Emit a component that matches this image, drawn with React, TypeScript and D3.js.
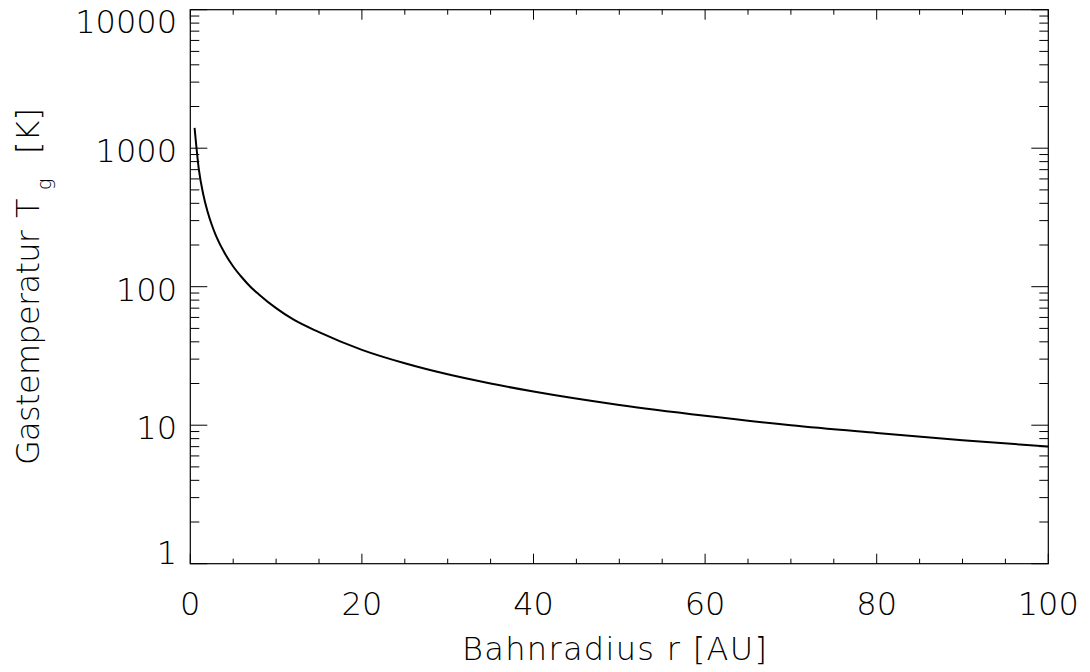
import React from "react";
import * as d3 from "d3";

// Orbital radius r [AU] and gas temperature T_g [K]
const radius = [0.5, 1, 1.5, 2, 2.5, 3, 4, 5, 6, 7, 8, 10, 12, 15, 20, 25, 30, 35, 40, 50, 60, 70, 80, 90, 100];
const temperature = [1400, 700, 467, 350, 280, 233, 175, 140, 117, 100, 88, 70, 58, 47, 35, 28, 23.3, 20, 17.5, 14, 11.7, 10, 8.8, 7.8, 7.0];

const xTicks = [0, 20, 40, 60, 80, 100];
const xMinorTicks = [5, 10, 15, 25, 30, 35, 45, 50, 55, 65, 70, 75, 85, 90, 95];
const yTicks = [1, 10, 100, 1000, 10000];
const yTickLabels = ["1", "10", "100", "1000", "10000"];

const W = 1090;
const H = 672;
const M = { left: 190.3, right: 1048.3, top: 9.7, bottom: 563.7 };
const FONT = "'DejaVu Sans', 'Liberation Sans', sans-serif";

export default function App() {
  const x = d3.scaleLinear().domain([0, 100]).range([M.left, M.right]);
  const y = d3.scaleLog().domain([1, 10000]).range([M.bottom, M.top]);

  const yMinor: number[] = [];
  for (let d = 1; d < 10000; d *= 10) {
    for (let k = 2; k <= 9; k++) yMinor.push(d * k);
  }

  const line = d3
    .line<number>()
    .x((_, i) => x(radius[i]))
    .y((d) => y(d))
    .curve(d3.curveMonotoneX);
  const path = line(temperature) || "";

  const tickStroke = "#000";
  return (
    <svg
      width={W}
      height={H}
      style={{ position: "absolute", left: 0, top: 0, background: "#fff" }}
      fontFamily={FONT}
    >
      <rect x={0} y={0} width={W} height={H} fill="#fff" />
      {/* frame */}
      <rect
        x={M.left}
        y={M.top}
        width={M.right - M.left}
        height={M.bottom - M.top}
        fill="none"
        stroke="#000"
        strokeWidth={1.2}
      />
      {/* x ticks bottom & top */}
      {xTicks.map((t) => (
        <g key={"xt" + t}>
          <line x1={x(t)} x2={x(t)} y1={M.bottom} y2={M.bottom - 10} stroke={tickStroke} strokeWidth={1} />
          <line x1={x(t)} x2={x(t)} y1={M.top} y2={M.top + 10} stroke={tickStroke} strokeWidth={1} />
          <text x={x(t)} y={615} textAnchor="middle" fontSize={32} fontWeight={300} fill="#000">
            {t}
          </text>
        </g>
      ))}
      {xMinorTicks.map((t) => (
        <g key={"xm" + t}>
          <line x1={x(t)} x2={x(t)} y1={M.bottom} y2={M.bottom - 5} stroke={tickStroke} strokeWidth={1} />
          <line x1={x(t)} x2={x(t)} y1={M.top} y2={M.top + 5} stroke={tickStroke} strokeWidth={1} />
        </g>
      ))}
      {/* y ticks left & right */}
      {yTicks.map((t, i) => {
        const ty = y(t);
        const cy = Math.min(Math.max(ty + 2.5, M.top + 11.5), M.bottom - 11.5);
        return (
          <g key={"yt" + t}>
            <line x1={M.left} x2={M.left + 17} y1={ty} y2={ty} stroke={tickStroke} strokeWidth={1} />
            <line x1={M.right} x2={M.right - 17} y1={ty} y2={ty} stroke={tickStroke} strokeWidth={1} />
            <text
              x={177}
              y={cy}
              dy="0.36em"
              textAnchor="end"
              fontSize={32}
              fontWeight={300}
              fill="#000"
            >
              {yTickLabels[i]}
            </text>
          </g>
        );
      })}
      {yMinor.map((t) => (
        <g key={"ym" + t}>
          <line x1={M.left} x2={M.left + 9} y1={y(t)} y2={y(t)} stroke={tickStroke} strokeWidth={1} />
          <line x1={M.right} x2={M.right - 9} y1={y(t)} y2={y(t)} stroke={tickStroke} strokeWidth={1} />
        </g>
      ))}
      {/* curve */}
      <path d={path} fill="none" stroke="#000" strokeWidth={2} strokeLinejoin="round" />
      {/* axis titles */}
      <text
        x={614.5}
        y={660}
        textAnchor="middle"
        fontSize={32}
        fontWeight={300}
        fill="#000"
        textLength={305}
        lengthAdjust="spacing"
      >
        Bahnradius r [AU]
      </text>
      <g transform="translate(39, 0) rotate(-90)" fontSize={32} fontWeight={300} fill="#000">
        <text x={-465} y={0} textLength={235} lengthAdjust="spacing">
          Gastemperatur
        </text>
        <text x={-218} y={0}>T</text>
        <text x={-190} y={12} fontSize={19}>g</text>
        <text x={-154} y={0}>[K]</text>
      </g>
    </svg>
  );
}
